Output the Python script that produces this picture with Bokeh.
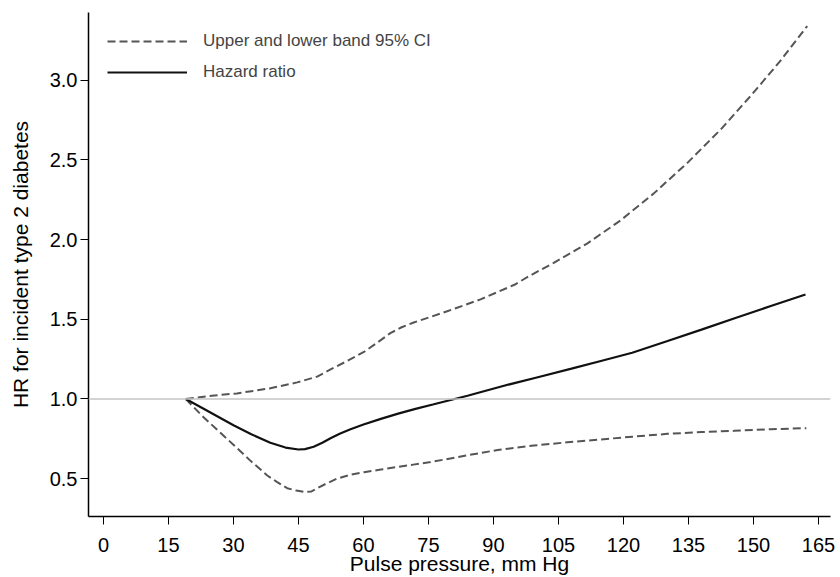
from bokeh.plotting import figure
from bokeh.models import Range1d, Span, FixedTicker, Legend, LegendItem, NumeralTickFormatter
from bokeh.embed import file_html
from bokeh.resources import INLINE

x_ticks = [0, 15, 30, 45, 60, 75, 90, 105, 120, 135, 150, 165]
y_ticks = [0.5, 1.0, 1.5, 2.0, 2.5, 3.0]

hr_x = [19, 23, 30, 34, 38.5, 42, 45, 46.5, 48.5, 50.5, 52.5, 54.5, 57, 60, 64, 68, 72, 76, 84, 92, 100, 108, 115, 122, 130, 138, 146, 154, 162]
hr_y = [1.0, 0.94, 0.835, 0.78, 0.725, 0.695, 0.683, 0.685, 0.70, 0.725, 0.755, 0.782, 0.81, 0.84, 0.875, 0.908, 0.938, 0.965, 1.02, 1.08, 1.135, 1.19, 1.24, 1.29, 1.362, 1.435, 1.51, 1.583, 1.656]

up_x = [19, 25, 30.8, 38.5, 44.7, 49.3, 52.4, 56, 60.1, 63, 66.2, 68.8, 71.6, 75.5, 79.3, 87, 94.7, 98.5, 103.9, 111.6, 119.3, 127, 134.7, 142.4, 149.3, 156, 162.4]
up_y = [1.0, 1.02, 1.035, 1.067, 1.104, 1.14, 1.185, 1.235, 1.295, 1.35, 1.413, 1.45, 1.48, 1.515, 1.55, 1.625, 1.715, 1.775, 1.854, 1.975, 2.12, 2.29, 2.48, 2.69, 2.90, 3.115, 3.34]

lo_x = [19, 23.1, 26.5, 30.1, 34, 37.8, 40, 42.4, 44.5, 46.2, 48, 49.3, 51.5, 53.9, 57, 60.1, 64, 67.8, 71.5, 75.5, 83.9, 91, 99.3, 107, 114.7, 122, 130.1, 138, 145.5, 154, 162.2]
lo_y = [1.0, 0.885, 0.80, 0.71, 0.61, 0.52, 0.48, 0.44, 0.425, 0.417, 0.42, 0.44, 0.47, 0.50, 0.525, 0.54, 0.557, 0.573, 0.588, 0.604, 0.646, 0.68, 0.708, 0.728, 0.746, 0.763, 0.781, 0.792, 0.80, 0.81, 0.817]

p = figure(width=840, height=577, output_backend="svg", toolbar_location=None,
           x_range=Range1d(-3.46, 167.77), y_range=Range1d(0.2625, 3.425),
           min_border_left=88, min_border_right=10, min_border_top=12, min_border_bottom=59)
p.outline_line_color = None
p.grid.visible = False
p.background_fill_color = "white"

p.add_layout(Span(location=1.0, dimension="width", line_color="#c4c4c4", line_width=1.5))

r_up = p.line(up_x, up_y, line_color="#555555", line_width=2, line_dash="8 4")
r_lo = p.line(lo_x, lo_y, line_color="#555555", line_width=2, line_dash="8 4")
r_hr = p.line(hr_x, hr_y, line_color="#111111", line_width=2.2)

legend = Legend(items=[LegendItem(label="Upper and lower band 95% CI", renderers=[r_up]),
                       LegendItem(label="Hazard ratio", renderers=[r_hr])],
                location="top_left", border_line_color=None, background_fill_alpha=0,
                glyph_width=80, glyph_height=20, label_height=20,
                label_text_font="Liberation Sans", label_text_font_size="17px",
                spacing=11, margin=19, padding=8, label_standoff=16)
p.add_layout(legend)

for ax in (p.xaxis[0], p.yaxis[0]):
    ax.major_label_text_font = "Liberation Sans"
    ax.major_label_text_font_size = "20px"
    ax.axis_label_text_font = "Liberation Sans"
    ax.axis_label_text_font_size = "21px"
    ax.axis_label_text_font_style = "normal"
    ax.minor_tick_line_color = None
    ax.major_tick_out = 8
    ax.major_tick_in = 0
    ax.axis_line_color = "black"
    ax.major_tick_line_color = "black"
    ax.major_label_text_color = "black"
    ax.axis_label_text_color = "black"
    ax.axis_line_width = 1.5

p.xaxis[0].ticker = FixedTicker(ticks=x_ticks)
p.yaxis[0].ticker = FixedTicker(ticks=y_ticks)
p.yaxis[0].formatter = NumeralTickFormatter(format="0.0")
p.xaxis[0].axis_label = "Pulse pressure, mm Hg"
p.yaxis[0].axis_label = "HR for incident type 2 diabetes"
p.xaxis[0].major_label_standoff = 13
p.xaxis[0].axis_label_standoff = -3
p.yaxis[0].major_label_standoff = 3
p.yaxis[0].axis_label_standoff = 15

open("out.html", "w").write(file_html(p, INLINE))
